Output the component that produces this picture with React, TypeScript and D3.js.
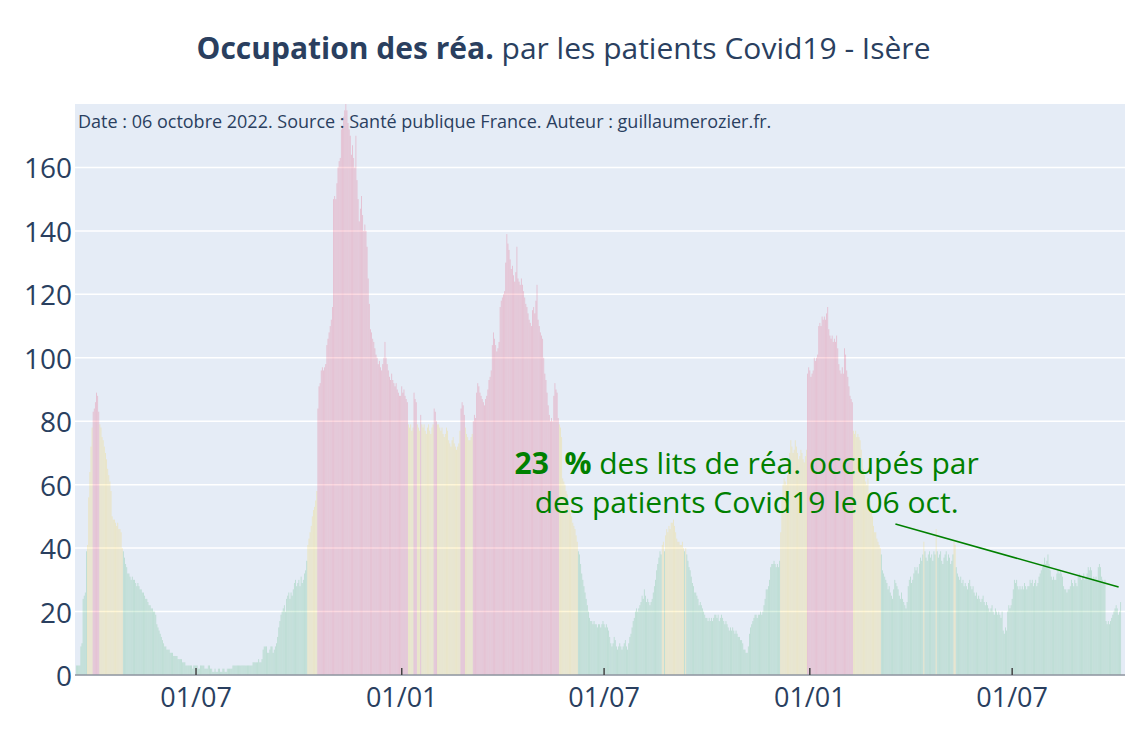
import React from 'react';
import * as d3 from 'd3';

// ---- data -------------------------------------------------------------
const seriesStart = '2020-03-16';
// patients Covid19 en réanimation, Isère, one value per day
const rea2020 = [
  // Mar 16-31
  3, 3, 3, 3, 9, 10, 24, 25, 26, 39, 41, 56, 64, 72, 78, 83,
  // Apr
  84, 86, 89, 88, 83, 79, 78, 75, 74, 72, 70, 68, 65, 63, 61, 58, 50, 49, 49, 48, 47, 48, 46, 46, 45, 40, 39, 37, 35, 34,
  // May
  32, 32, 31, 30, 31, 30, 30, 29, 28, 29, 28, 27, 27, 26, 26, 25, 24, 24, 23, 22, 22, 21, 21, 20, 20, 19, 16, 15, 14, 13, 12,
  // Jun
  11, 10, 9, 9, 8, 8, 8, 7, 7, 7, 6, 6, 6, 6, 5, 5, 5, 5, 4, 4, 4, 3, 3, 3, 3, 3, 3, 2, 3, 3,
  // Jul
  3, 3, 2, 2, 3, 3, 3, 3, 2, 2, 2, 3, 3, 2, 2, 1, 1, 2, 1, 1, 2, 2, 1, 1, 2, 2, 1, 1, 2, 2, 2,
  // Aug
  2, 2, 3, 3, 3, 3, 3, 3, 3, 3, 3, 3, 3, 3, 3, 3, 3, 3, 3, 3, 4, 4, 4, 4, 4, 5, 4, 4, 5, 8, 9,
  // Sep
  9, 9, 7, 7, 8, 9, 9, 7, 8, 9, 10, 12, 15, 17, 19, 20, 21, 22, 20, 24, 25, 26, 24, 26, 25, 27, 29, 30, 28, 29,
  // Oct
  30, 28, 31, 29, 30, 32, 33, 36, 41, 43, 45, 47, 50, 52, 53, 55, 58, 84, 91, 92, 96, 97, 96, 97, 98, 104, 106, 108, 110, 112, 116,
  // Nov
  150, 151, 150, 155, 160, 162, 163, 172, 173, 176, 178, 180, 178, 174, 172, 170, 164, 167, 163, 160, 170, 156, 150, 143, 147, 151, 145, 140, 142, 140,
  // Dec
  135, 125, 117, 109, 108, 106, 105, 103, 101, 100, 98, 99, 97, 96, 98, 100, 105, 100, 98, 96, 94, 93, 95, 93, 92, 91, 92, 90, 89, 88, 88,
];
const rea2021 = [
  // Jan
  91, 89, 90, 88, 87, 86, 79, 78, 79, 77, 78, 89, 87, 86, 79, 78, 77, 82, 79, 78, 79, 77, 76, 78, 79, 77, 76, 78, 79, 84, 83,
  // Feb
  80, 79, 79, 78, 77, 78, 76, 75, 76, 78, 77, 74, 73, 72, 74, 75, 73, 72, 71, 72, 73, 77, 84, 86, 85, 82, 78, 76,
  // Mar
  75, 74, 74, 75, 76, 80, 82, 81, 89, 92, 91, 89, 88, 87, 86, 85, 87, 88, 90, 93, 94, 96, 104, 108, 106, 104, 102, 103, 105, 116, 118,
  // Apr
  119, 120, 121, 130, 139, 136, 134, 131, 128, 129, 126, 124, 127, 135, 125, 124, 123, 125, 123, 121, 119, 117, 116, 114, 112, 111, 110, 115, 116, 114,
  // May
  118, 123, 112, 110, 108, 107, 106, 100, 95, 93, 89, 85, 82, 80, 81, 80, 88, 92, 90, 89, 81, 79, 78, 75, 62, 61, 60, 58, 57, 54, 53,
  // Jun
  51, 50, 48, 47, 46, 44, 42, 39, 38, 35, 32, 30, 28, 26, 24, 22, 20, 18, 17, 17, 16, 17, 16, 16, 15, 16, 16, 15, 16, 17,
  // Jul
  16, 15, 16, 15, 14, 12, 10, 9, 10, 12, 11, 9, 8, 9, 10, 9, 8, 9, 10, 11, 9, 8, 10, 12, 13, 15, 17, 18, 20, 21, 20,
  // Aug
  21, 22, 23, 25, 24, 27, 25, 23, 24, 23, 22, 23, 24, 26, 28, 30, 33, 35, 37, 39, 38, 41, 42, 39, 44, 46, 45, 47, 46, 48, 48,
  // Sep
  49, 47, 45, 43, 42, 42, 41, 41, 42, 40, 39, 40, 38, 36, 34, 33, 31, 29, 28, 26, 26, 25, 24, 22, 23, 22, 21, 20, 19, 18,
  // Oct
  18, 17, 18, 17, 18, 17, 18, 19, 19, 18, 19, 17, 18, 19, 18, 17, 16, 17, 16, 15, 14, 15, 14, 15, 14, 13, 14, 13, 12, 12, 11,
  // Nov
  11, 10, 8, 8, 7, 7, 9, 13, 15, 16, 17, 18, 19, 19, 18, 19, 19, 20, 19, 20, 22, 24, 27, 27, 28, 30, 34, 35, 35, 36,
  // Dec
  35, 34, 35, 34, 36, 45, 55, 60, 62, 61, 60, 63, 66, 70, 74, 72, 70, 71, 74, 72, 70, 68, 69, 71, 70, 68, 67, 69, 71, 95, 97,
];
const rea2022 = [
  // Jan
  96, 94, 95, 96, 100, 99, 100, 101, 110, 111, 110, 113, 112, 113, 112, 114, 116, 109, 107, 106, 107, 105, 106, 105, 107, 103, 98, 96, 95, 97, 95,
  // Feb
  103, 101, 96, 94, 91, 88, 87, 86, 77, 76, 77, 75, 76, 75, 74, 71, 68, 65, 63, 61, 60, 62, 57, 55, 52, 50, 47, 45,
  // Mar
  45, 43, 42, 41, 40, 38, 33, 32, 31, 30, 29, 27, 28, 26, 25, 24, 27, 30, 29, 28, 27, 25, 24, 26, 24, 23, 22, 21, 23, 28, 30,
  // Apr
  31, 29, 30, 32, 34, 33, 34, 32, 35, 37, 36, 38, 42, 39, 37, 36, 38, 39, 37, 38, 36, 39, 38, 46, 39, 37, 38, 39, 36, 35,
  // May
  37, 38, 39, 36, 38, 37, 35, 36, 38, 42, 41, 34, 32, 31, 30, 31, 29, 30, 28, 29, 28, 27, 29, 30, 28, 27, 28, 26, 25, 26, 24,
  // Jun
  25, 24, 23, 24, 25, 23, 22, 23, 22, 21, 20, 21, 22, 20, 19, 21, 20, 19, 20, 19, 18, 20, 14, 13, 15, 14, 20, 22, 21, 22,
  // Jul
  24, 27, 30, 29, 30, 28, 27, 28, 27, 28, 27, 29, 28, 27, 28, 28, 30, 29, 30, 28, 29, 30, 28, 29, 31, 32, 33, 34, 35, 37, 35,
  // Aug
  36, 38, 35, 33, 31, 30, 31, 30, 30, 32, 33, 32, 33, 32, 31, 28, 27, 27, 26, 27, 27, 28, 30, 29, 28, 30, 29, 28, 31, 32, 31,
  // Sep
  30, 31, 32, 30, 31, 32, 34, 33, 34, 33, 30, 31, 30, 31, 30, 34, 35, 34, 31, 30, 29, 30, 17, 16, 17, 16, 17, 18, 19, 20,
  // Oct 1-6
  21, 22, 21, 19, 20, 23,
];

const bedCapacity = 100; // lits de réa, Isère
const levelThresholds = [40, 80]; // % occupation: green < 40 <= yellow < 80 <= red
const levelColors = ['rgba(20,160,70,0.2)', 'rgba(255,200,0,0.2)', 'rgba(230,10,60,0.2)'];

const yTickValues = [0, 20, 40, 60, 80, 100, 120, 140, 160];
const xTickDates = ['2020-07-01', '2021-01-01', '2021-07-01', '2022-01-01', '2022-07-01'];
const xTickLabels = ['01/07', '01/01', '01/07', '01/01', '01/07'];
const xRange = ['2020-03-14T18:00:00Z', '2022-10-09T22:00:00Z'];
const yRange = [0, 180];

const titleBold = 'Occupation des réa.';
const titleRest = ' par les patients Covid19 - Isère';
const sourceNote = 'Date : 06 octobre 2022. Source : Santé publique France. Auteur : guillaumerozier.fr.';
const noteLine1Rest = ' des lits de réa. occupés par';
const noteLine2 = 'des patients Covid19 le 06 oct.';

// ---- layout -------------------------------------------------------------
const W = 1125;
const H = 750;
const M = { left: 75, right: 1125, top: 104, bottom: 675 };
const FONT = '"Open Sans", "Noto Sans", sans-serif';
const TEXT = '#2a3f5f';
const DAY = 24 * 3600 * 1000;

export default function App() {
  const values = [...rea2020, ...rea2021, ...rea2022];
  const start = new Date(seriesStart + 'T00:00:00Z').getTime();
  const data = values.map((v, i) => ({ date: new Date(start + i * DAY), value: v }));

  const x = d3.scaleUtc().domain(xRange.map((s) => new Date(s))).range([M.left, M.right]);
  const y = d3.scaleLinear().domain(yRange).range([M.bottom, M.top]);

  const dayW = x(new Date(start + DAY)) - x(new Date(start));
  const barW = dayW * 0.8;

  const level = (v: number) => {
    const pct = (v / bedCapacity) * 100;
    return pct >= levelThresholds[1] ? 2 : pct >= levelThresholds[0] ? 1 : 0;
  };

  const last = data[data.length - 1];
  const lastPct = Math.round((last.value / bedCapacity) * 100);
  // annotation arrow: points to last bar with a standoff, text centred at an offset
  const px = x(last.date) - 2;
  const py = y(last.value) - 15;
  const cx = px - 372;
  const cy = py - 105;
  const boxBottom = cy + 42;
  const sx = cx + ((boxBottom - cy) * (px - cx)) / (py - cy);

  return (
    <div style={{ position: 'fixed', left: 0, top: 0, width: W, height: H, background: '#fff' }}>
      <svg width={W} height={H} style={{ display: 'block' }} fontFamily={FONT}>
        <rect x={0} y={0} width={W} height={H} fill="#fff" />
        <rect x={M.left} y={M.top} width={M.right - M.left} height={M.bottom - M.top} fill="#E5ECF6" />
        {yTickValues.map((t) => (
          <line key={'g' + t} x1={M.left} x2={M.right} y1={y(t)} y2={y(t)} stroke="#fff" strokeWidth={1.5} />
        ))}
        <g>
          {data.map((d, i) => {
            const h = y(0) - y(Math.min(d.value, yRange[1]));
            return (
              <rect
                key={i}
                x={x(d.date) - barW / 2}
                y={y(0) - h}
                width={barW}
                height={h}
                fill={levelColors[level(d.value)]}
              />
            );
          })}
        </g>
        <line x1={M.left} x2={M.right} y1={y(0)} y2={y(0)} stroke="#8a929e" strokeWidth={1.5} />
        {xTickDates.map((s, i) => {
          const xx = x(new Date(s + 'T00:00:00Z'));
          return (
            <g key={s}>
              <line x1={xx} x2={xx} y1={y(0)} y2={y(0) - 7} stroke="#444" strokeWidth={1.5} />
              <text x={xx} y={y(0) + 21} textAnchor="middle" dominantBaseline="central" fontSize={27} fill={TEXT}>
                {xTickLabels[i]}
              </text>
            </g>
          );
        })}
        {yTickValues.map((t) => (
          <text key={'t' + t} x={M.left - 3} y={y(t)} textAnchor="end" dominantBaseline="central" fontSize={28} fill={TEXT}>
            {t}
          </text>
        ))}
        <text x={W / 2 + 1} y={47} textAnchor="middle" dominantBaseline="central" fontSize={30} fill={TEXT}>
          <tspan fontWeight="bold">{titleBold}</tspan>
          <tspan>{titleRest}</tspan>
        </text>
        <text x={M.left + 3} y={121} dominantBaseline="central" fontSize={18} fill={TEXT}>
          {sourceNote}
        </text>
        <line x1={sx} y1={boxBottom} x2={px} y2={py} stroke="green" strokeWidth={1.5} />
        <text x={cx} y={cy - 20} textAnchor="middle" dominantBaseline="central" fontSize={30} fill="green" style={{ whiteSpace: 'pre' }}>
          <tspan fontWeight="bold">{`${lastPct}  %`}</tspan>
          <tspan>{noteLine1Rest}</tspan>
        </text>
        <text x={cx} y={cy + 19} textAnchor="middle" dominantBaseline="central" fontSize={30} fill="green">
          {noteLine2}
        </text>
      </svg>
    </div>
  );
}
